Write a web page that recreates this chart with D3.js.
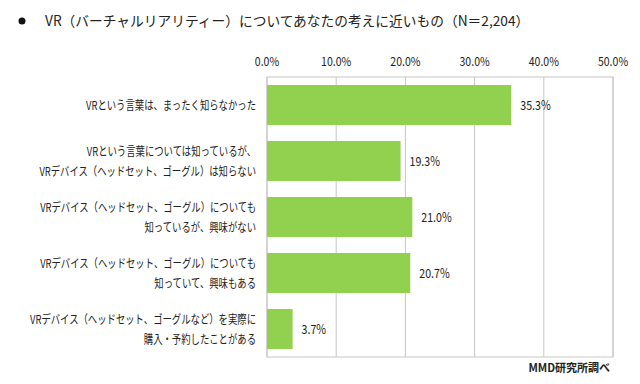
<!DOCTYPE html>
<html><head><meta charset="utf-8">
<script src="https://cdn.jsdelivr.net/npm/d3@7/dist/d3.min.js"></script>
<style>
html,body{margin:0;padding:0;background:#fff;}
svg{display:block;}
text{font-family:"Noto Sans CJK JP","Noto Sans",sans-serif;fill:#222;}
</style></head>
<body>
<script>
const title = "VR（バーチャルリアリティー）についてあなたの考えに近いもの（N＝2,204）";
const categories = [
  "VRという言葉は、まったく知らなかった",
  "VRという言葉については知っているが、\nVRデバイス（ヘッドセット、ゴーグル）は知らない",
  "VRデバイス（ヘッドセット、ゴーグル）についても\n知っているが、興味がない",
  "VRデバイス（ヘッドセット、ゴーグル）についても\n知っていて、興味もある",
  "VRデバイス（ヘッドセット、ゴーグルなど）を実際に\n購入・予約したことがある"
];
const values = [35.3, 19.3, 21.0, 20.7, 3.7];
const tickValues = [0, 10, 20, 30, 40, 50];
const tickLabels = ["0.0%", "10.0%", "20.0%", "30.0%", "40.0%", "50.0%"];
const source = "MMD研究所調べ";

const W = 640, H = 384;
const svg = d3.select("body").append("svg").attr("width", W).attr("height", H);

// text drawn inside a horizontally-condensed group
function ctext(parent, px, py, f, str, size, anchor) {
  const g = parent.append("g").attr("transform", `translate(${px},${py}) scale(${f},1)`);
  return g.append("text").attr("x", 0).attr("y", 0)
    .attr("text-anchor", anchor || "start").attr("font-size", size).text(str);
}

// title
svg.append("circle").attr("cx", 22).attr("cy", 21).attr("r", 3.5).attr("fill", "#111");
ctext(svg, 45, 26, 0.98, title, 14, "start");

const x = d3.scaleLinear().domain([0, 50]).range([267, 613]);
const y = d3.scaleBand().domain(categories).range([77, 357]).paddingInner(0.286).paddingOuter(0.143);

// grid
svg.append("g").selectAll("line").data(tickValues).join("line")
  .attr("x1", d => x(d)).attr("x2", d => x(d))
  .attr("y1", 77).attr("y2", 357)
  .attr("stroke", "#c6c6c6").attr("stroke-width", 1);
svg.append("rect").attr("x", x(0)).attr("y", 77).attr("width", x(50) - x(0)).attr("height", 280)
  .attr("fill", "none").attr("stroke", "#c6c6c6").attr("stroke-width", 1);

// ticks
const tg = svg.append("g");
tickValues.forEach((d, i) => ctext(tg, x(d), 66, 0.88, tickLabels[i], 12, "middle"));

// bars
svg.append("g").selectAll("rect").data(values).join("rect")
  .attr("x", x(0)).attr("y", (d, i) => y(categories[i]))
  .attr("width", d => x(d) - x(0)).attr("height", y.bandwidth())
  .attr("fill", "#92d050");

// value labels
const vg = svg.append("g");
values.forEach((d, i) => ctext(vg, x(d) + 9, y(categories[i]) + y.bandwidth() / 2 + 4.5, 0.85,
  d.toFixed(1) + "%", 12.5, "start"));

// category labels
const cg = svg.append("g");
categories.forEach((c, i) => {
  const lines = c.split("\n");
  const cy = y(c) + y.bandwidth() / 2;
  const lh = 20;
  lines.forEach((ln, j) => {
    ctext(cg, 256, cy + (j - (lines.length - 1) / 2) * lh + 4.5, 0.78, ln, 12, "end");
  });
});

// source
svg.append("text").attr("x", 610).attr("y", 372).attr("text-anchor", "end")
  .attr("font-size", 11).attr("font-weight", "bold").text(source);
</script>
</body></html>
